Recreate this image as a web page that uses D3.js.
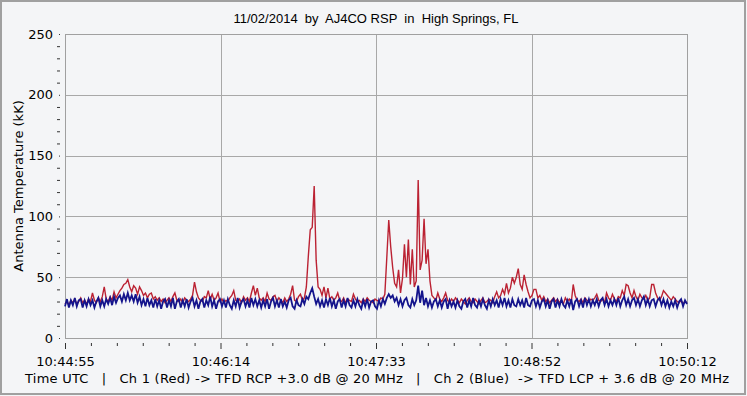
<!DOCTYPE html>
<html>
<head>
<meta charset="utf-8">
<script src="https://cdn.jsdelivr.net/npm/d3@7"></script>
<style>
  body { margin: 0; background: #f4f5f7; }
  svg { display: block; }
  text { font-family: "DejaVu Sans", sans-serif; font-size: 13px; fill: #000; }
  .title { font-family: "Liberation Sans", Arial, sans-serif; font-size: 13px; }
</style>
</head>
<body>
<script>
// title / labels
var chartTitle = "11/02/2014  by  AJ4CO RSP  in  High Springs, FL";
var yLabel = "Antenna Temperature (kK)";
var footer = "Time UTC   |   Ch 1 (Red) -> TFD RCP +3.0 dB @ 20 MHz   |   Ch 2 (Blue)  -> TFD LCP + 3.6 dB @ 20 MHz";

// x axis: seconds since 10:44:55
var timeLabels = ["10:44:55", "10:46:14", "10:47:33", "10:48:52", "10:50:12"];
var timeSpan = 317;
var yTicks = [0, 50, 100, 150, 200, 250];

// Ch 1 (red), one reading per second, kK
var redValues = [
  28,30,27,31,29,32,28,30,33,29,
  31,28,32,30,37,31,29,33,30,34,
  42,32,30,34,31,38,33,36,39,41,
  44,45,48,42,38,43,41,36,42,39,
  35,37,33,36,37,32,34,31,33,30,
  32,29,31,33,30,34,37,31,30,32,
  29,33,31,30,32,35,46,38,33,31,
  30,34,33,39,32,36,31,33,37,30,
  32,29,31,30,33,35,39,31,30,32,
  29,34,31,33,30,37,43,35,41,33,
  31,33,30,37,32,31,34,35,30,33,
  31,29,33,30,32,36,43,31,30,34,
  36,31,33,42,67,89,91,125,64,42,
  40,35,42,33,41,32,34,31,33,37,
  31,30,33,29,32,31,30,36,32,30,
  31,29,32,30,33,31,30,29,32,31,
  30,33,32,36,66,97,75,58,45,42,
  56,37,49,77,50,81,44,73,42,47,
  130,56,64,98,61,73,47,35,33,31,
  37,32,30,33,37,31,29,32,30,33,
  31,29,32,30,28,31,33,30,29,32,
  30,28,31,33,29,30,32,31,29,34,
  38,33,35,40,36,45,37,41,50,45,
  50,57,44,40,52,44,38,33,35,40,
  40,33,35,31,34,30,32,29,31,33,
  30,32,29,31,28,33,30,32,29,44,
  35,31,30,32,29,33,31,30,32,31,
  33,36,31,30,32,29,37,33,31,36,
  32,30,34,33,39,35,44,43,37,33,
  39,34,31,36,33,32,35,31,33,44,
  44,37,33,31,34,39,37,35,33,31,
  34,32,30,29,31,28,30,29
];

// Ch 2 (blue), one reading per second, kK
var blueValues = [
  26,32,25,31,27,33,26,31,32,25,
  31,26,32,27,31,25,30,33,26,31,
  26,32,28,33,27,34,29,33,35,30,
  36,31,37,31,35,30,36,29,34,27,
  32,26,33,27,31,25,32,26,31,24,
  30,32,25,31,26,33,24,30,32,25,
  31,26,32,25,30,33,26,31,24,30,
  32,25,31,27,34,26,31,24,30,32,
  26,31,25,32,27,24,31,26,33,25,
  30,32,26,31,25,33,27,32,26,31,
  25,31,26,32,24,30,33,26,31,25,
  32,26,30,25,31,33,26,24,31,27,
  26,32,28,34,32,37,41,34,28,32,
  26,31,25,32,27,33,26,31,24,30,
  32,25,31,26,33,27,25,31,26,32,
  27,24,31,26,32,25,30,31,26,24,
  31,26,32,28,33,36,33,35,30,33,
  27,32,26,31,33,27,25,32,27,31,
  43,29,39,27,33,26,31,25,30,32,
  26,31,25,30,32,24,31,26,30,25,
  31,26,24,30,32,25,31,26,33,27,
  25,31,26,32,27,24,31,26,32,27,
  31,25,32,27,33,26,31,25,32,27,
  26,32,27,31,25,33,27,26,31,32,
  26,31,25,30,32,26,31,24,30,32,
  25,31,26,32,27,25,31,26,32,23,
  30,32,26,31,25,33,27,32,26,31,
  27,32,26,31,33,27,32,26,31,27,
  32,27,33,26,31,34,27,32,26,31,
  33,27,32,26,31,34,27,32,26,31,
  32,26,31,33,27,32,26,31,25,30,
  26,31,25,30,32,26,31,28
];

var width = 747, height = 396;
var plot = {left: 65, top: 34, right: 687, bottom: 338};

var svg = d3.select("body").append("svg")
    .attr("width", width)
    .attr("height", height);

// window border
svg.append("rect")
    .attr("x", 1).attr("y", 1)
    .attr("width", width - 3).attr("height", height - 3)
    .attr("fill", "#f4f5f7")
    .attr("stroke", "#a0a0a0")
    .attr("stroke-width", 2);

var x = d3.scaleLinear().domain([0, timeSpan]).range([plot.left, plot.right]);
var y = d3.scaleLinear().domain([0, 250]).range([plot.bottom, plot.top]);

var majorX = timeLabels.map(function(d, i) { return i * timeSpan / (timeLabels.length - 1); });
var minorX = d3.range(0, 25).map(function(i) { return i * timeSpan / 24; })
    .filter(function(d, i) { return i % 6 !== 0; });
var minorY = d3.range(0, 251, 10).filter(function(d) { return d % 50 !== 0; });

// grid
var grid = svg.append("g").attr("stroke", "#a8a8a8").attr("shape-rendering", "crispEdges");
grid.selectAll(".vgrid").data(majorX.slice(1, -1)).enter().append("line")
    .attr("x1", function(d) { return Math.round(x(d)) + 0.5; })
    .attr("x2", function(d) { return Math.round(x(d)) + 0.5; })
    .attr("y1", plot.top).attr("y2", plot.bottom);
grid.selectAll(".hgrid").data(yTicks.slice(1, -1)).enter().append("line")
    .attr("y1", function(d) { return Math.round(y(d)) + 0.5; })
    .attr("y2", function(d) { return Math.round(y(d)) + 0.5; })
    .attr("x1", plot.left).attr("x2", plot.right);
svg.append("rect")
    .attr("x", plot.left + 0.5).attr("y", plot.top + 0.5)
    .attr("width", plot.right - plot.left).attr("height", plot.bottom - plot.top)
    .attr("fill", "none").attr("stroke", "#a0a0a0")
    .attr("shape-rendering", "crispEdges");

// y axis
var yAxis = svg.append("g")
    .attr("transform", "translate(60,0)")
    .call(d3.axisLeft(y).tickValues(yTicks).tickSize(1).tickPadding(6).tickFormat(d3.format("d")));
yAxis.select(".domain").remove();
yAxis.selectAll("text").style("font-size", "13px").style("font-family", "DejaVu Sans");
yAxis.selectAll("line").attr("stroke", "#333");

var yMinor = svg.append("g")
    .attr("transform", "translate(60,0)")
    .call(d3.axisLeft(y).tickValues(minorY).tickSize(3).tickFormat(""));
yMinor.select(".domain").remove();
yMinor.selectAll("line").attr("stroke", "#333");

// x axis
var xAxis = svg.append("g")
    .attr("transform", "translate(0,343)")
    .call(d3.axisBottom(x).tickValues(majorX).tickSize(6).tickPadding(8)
      .tickFormat(function(d, i) { return timeLabels[i]; }));
xAxis.select(".domain").remove();
xAxis.selectAll("text").style("font-size", "13px").style("font-family", "DejaVu Sans");
xAxis.selectAll("line").attr("stroke", "#333");

var xMinor = svg.append("g")
    .attr("transform", "translate(0,343)")
    .call(d3.axisBottom(x).tickValues(minorX).tickSize(3).tickFormat(""));
xMinor.select(".domain").remove();
xMinor.selectAll("line").attr("stroke", "#333");

// series
var line = d3.line()
    .x(function(d, i) { return x(i); })
    .y(function(d) { return y(d); });

svg.append("path")
    .datum(redValues)
    .attr("fill", "none")
    .attr("stroke", "#bb2233")
    .attr("stroke-width", 1.4)
    .attr("d", line);

svg.append("path")
    .datum(blueValues)
    .attr("fill", "none")
    .attr("stroke", "#14148c")
    .attr("stroke-width", 1.8)
    .attr("d", line);

// texts
svg.append("text")
    .attr("class", "title")
    .attr("x", (plot.left + plot.right) / 2)
    .attr("y", 23)
    .attr("text-anchor", "middle")
    .style("white-space", "pre")
    .text(chartTitle);

svg.append("text")
    .attr("transform", "translate(23," + ((plot.top + plot.bottom) / 2) + ") rotate(-90)")
    .attr("text-anchor", "middle")
    .text(yLabel);

svg.append("text")
    .attr("x", 25)
    .attr("y", 383)
    .attr("textLength", 704)
    .attr("lengthAdjust", "spacing")
    .style("white-space", "pre")
    .text(footer);
</script>
</body>
</html>
